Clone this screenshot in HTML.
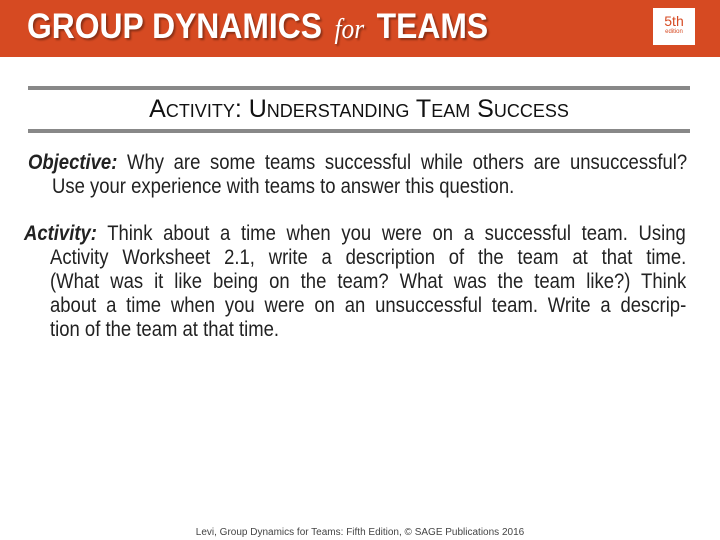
<!DOCTYPE html>
<html><head><meta charset="utf-8"><style>
body{margin:0;width:720px;height:540px;background:#fff;position:relative;overflow:hidden;font-family:"Liberation Sans",sans-serif;color:#222}
.banner{position:absolute;left:0;top:0;width:720px;height:57px;background:#d64a22}
.brand{position:absolute;left:27px;top:7px;font-weight:bold;font-size:35px;color:#fff;text-shadow:2px 2px 2px rgba(0,0,0,.35);transform:scaleX(0.91);transform-origin:left top;white-space:nowrap}
.brand i{font-family:"Liberation Serif",serif;font-weight:normal;font-size:28px;margin:0 4px}
.ed{position:absolute;left:653px;top:8px;width:42px;height:37px;background:#fff;text-align:center;color:#d64a22}
.ed b{display:block;font-weight:normal;font-size:14px;margin-top:5px}
.ed span{display:block;font-size:6px}
.rule{position:absolute;left:28px;width:662px;height:4px;background:#888}
.title{position:absolute;left:28px;width:662px;top:95px;text-align:center;font-size:25px;font-variant:small-caps;color:#111}
.ln{position:absolute;height:24px;line-height:24px;font-size:21px;white-space:nowrap;text-align:justify;text-align-last:justify;transform:scaleX(0.88);transform-origin:left top}
.last{text-align-last:left}
.foot{position:absolute;left:0;width:720px;top:527px;text-align:center;font-size:10px;color:#444}
</style></head><body>
<div class="banner">
<div class="brand">GROUP DYNAMICS <i>for</i> TEAMS</div>
<div class="ed"><b>5th</b><span>edition</span></div>
</div>
<div class="rule" style="top:86px"></div>
<div class="title">Activity: Understanding Team Success</div>
<div class="rule" style="top:129px"></div>
<div>
<div class="ln" style="left:28px;width:749px;top:151px"><b><i>Objective:</i></b> Why are some teams successful while others are unsuccessful?</div>
<div class="ln last" style="left:52px;width:722px;top:175px">Use your experience with teams to answer this question.</div>
</div>
<div>
<div class="ln" style="left:24px;width:752px;top:222px"><b><i>Activity:</i></b> Think about a time when you were on a successful team. Using</div>
<div class="ln" style="left:50px;width:723px;top:246px">Activity Worksheet 2.1, write a description of the team at that time.</div>
<div class="ln" style="left:50px;width:723px;top:270px">(What was it like being on the team? What was the team like?) Think</div>
<div class="ln" style="left:50px;width:723px;top:294px">about a time when you were on an unsuccessful team. Write a descrip-</div>
<div class="ln last" style="left:50px;width:723px;top:318px">tion of the team at that time.</div>
</div>
<div class="foot">Levi, Group Dynamics for Teams: Fifth Edition, © SAGE Publications 2016</div>
</body></html>
